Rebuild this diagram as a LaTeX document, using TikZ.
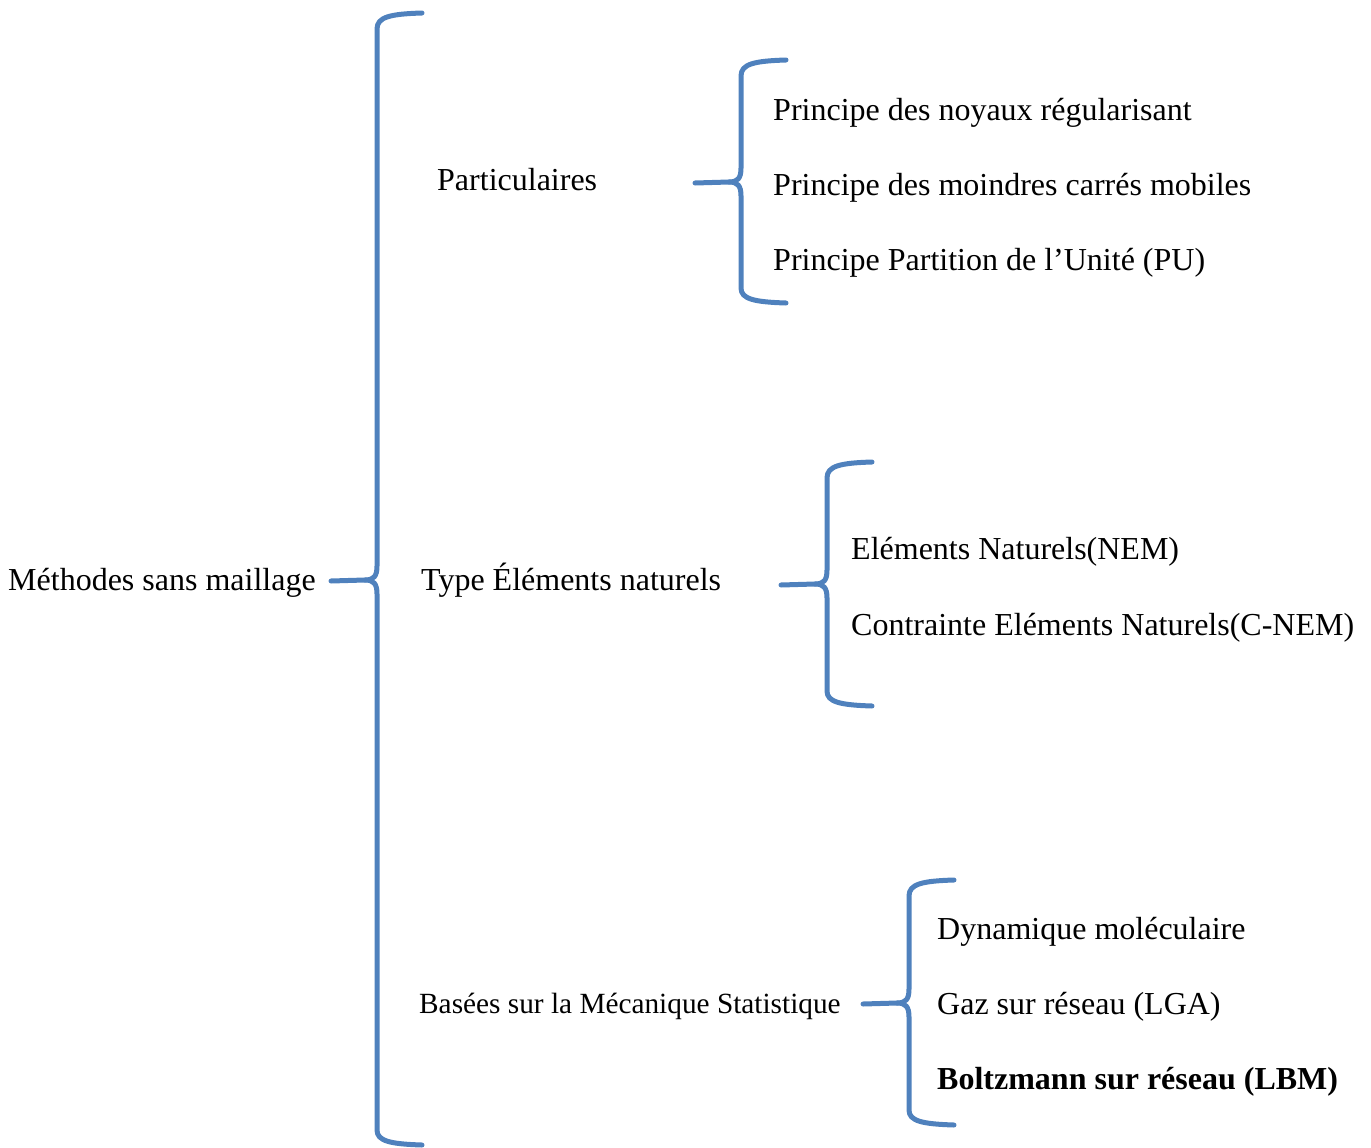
\documentclass[tikz,border=0pt]{standalone}
\usepackage{fontspec}
\setmainfont{Liberation Serif}
\definecolor{bleuacc}{HTML}{4F81BD}
\tikzset{
  accolade/.style={draw=bleuacc,line width=5pt,line cap=round,line join=round},
  grand/.style={anchor=base west,inner sep=0pt,font=\fontsize{32}{38}\selectfont},
  petit/.style={anchor=base west,inner sep=0pt,font=\fontsize{29.3}{35}\selectfont}
}
\begin{document}
\begin{tikzpicture}[x=1pt,y=-1pt]
\useasboundingbox (0,0) rectangle (1371,1148);

%grande accolade
\draw[accolade] (422,13) .. controls (390,14) and (377,17) .. (377,29) -- (377,566)
  .. controls (377,576) and (374,580) .. (365,580) -- (331,581);
\draw[accolade] (422,1145) .. controls (390,1144) and (377,1141) .. (377,1130) -- (377,594)
  .. controls (377,584) and (374,580) .. (365,580);

%accolade particulaires
\draw[accolade] (786,60) .. controls (754,61) and (741,64) .. (741,76) -- (741,168)
  .. controls (741,178) and (738,182) .. (729,182) -- (695,183);
\draw[accolade] (786,303) .. controls (754,302) and (741,299) .. (741,288) -- (741,196)
  .. controls (741,186) and (738,182) .. (729,182);

%accolade elements naturels
\draw[accolade] (872,462) .. controls (840,463) and (827,466) .. (827,478) -- (827,570)
  .. controls (827,580) and (824,584) .. (815,584) -- (781,585);
\draw[accolade] (872,706) .. controls (840,705) and (827,702) .. (827,691) -- (827,598)
  .. controls (827,588) and (824,584) .. (815,584);

%accolade mecanique statistique
\draw[accolade] (954,880) .. controls (922,881) and (909,884) .. (909,896) -- (909,989)
  .. controls (909,999) and (906,1003) .. (897,1003) -- (863,1004);
\draw[accolade] (954,1125) .. controls (922,1124) and (909,1121) .. (909,1110) -- (909,1017)
  .. controls (909,1007) and (906,1003) .. (897,1003);

\node[grand] (racine) at (8,590) {Méthodes sans maillage};
\node[grand] (partic) at (437,190) {Particulaires};
\node[grand] (naturel) at (421,590) {Type Éléments naturels};
\node[petit] (statist) at (419,1013) {Basées sur la Mécanique Statistique};

\node[grand] (p1) at (773,121) {Principe des noyaux régularisant};
\node[grand] (p2) at (773,195) {Principe des moindres carrés mobiles};
\node[grand] (p3) at (773,270) {Principe Partition de l’Unité (PU)};

\node[grand] (n1) at (851,559) {Eléments Naturels(NEM)};
\node[grand] (n2) at (851,635) {Contrainte Eléments Naturels(C-NEM)};

\node[grand] (s1) at (937,939) {Dynamique moléculaire};
\node[grand] (s2) at (937,1014) {Gaz sur réseau (LGA)};
\node[grand,font=\fontsize{32}{38}\selectfont\bfseries] (s3) at (937,1089) {Boltzmann sur réseau (LBM)};

\end{tikzpicture}
\end{document}
